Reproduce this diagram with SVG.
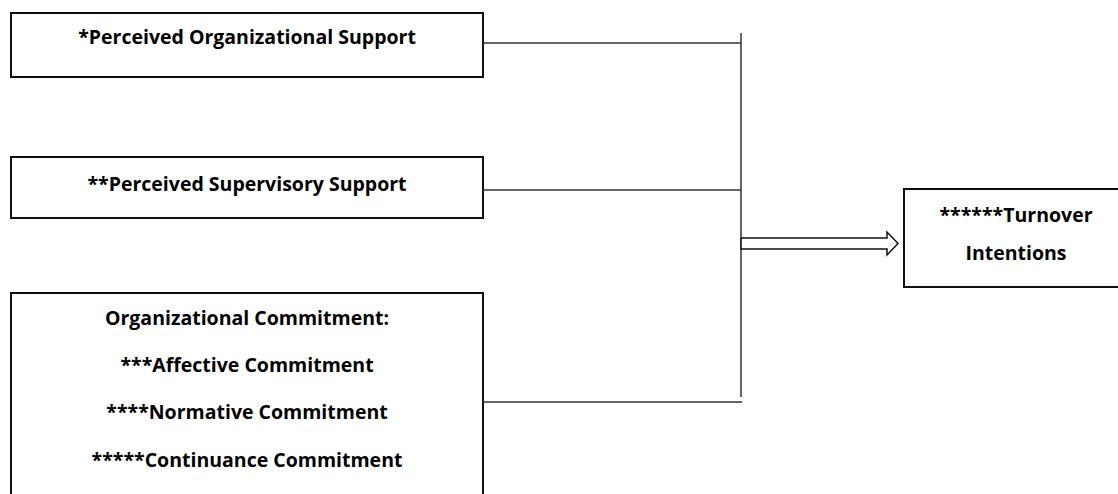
<svg xmlns="http://www.w3.org/2000/svg" width="1118" height="494" viewBox="0 0 1118 494">
<style>
.box{fill:#fff;stroke:#111;stroke-width:2}
.t{font-family:"Open Sans","Liberation Sans",sans-serif;font-weight:bold;font-size:19.5px;fill:#000;text-anchor:middle}
.c{stroke:#333;stroke-width:1.5;fill:none}
</style>
<rect width="1118" height="494" fill="#fff"/>
<g id="pos">
<rect class="box" x="11" y="13" width="472" height="64"/>
<text class="t" x="247" y="44">*Perceived Organizational Support</text>
</g>
<g id="pss">
<rect class="box" x="11" y="157" width="472" height="61"/>
<text class="t" x="247" y="191">**Perceived Supervisory Support</text>
</g>
<g id="oc">
<rect class="box" x="11" y="293" width="472" height="210"/>
<text class="t" x="247" y="325">Organizational Commitment:</text>
<text class="t" x="247" y="372">***Affective Commitment</text>
<text class="t" x="247" y="419">****Normative Commitment</text>
<text class="t" x="247" y="467">*****Continuance Commitment</text>
</g>
<g id="ti">
<rect class="box" x="904" y="189" width="224" height="98"/>
<text class="t" x="1016" y="222">******Turnover</text>
<text class="t" x="1016" y="260">Intentions</text>
</g>
<g id="connectors">
<line class="c" x1="741" y1="33" x2="741" y2="397"/>
<line class="c" x1="483" y1="43" x2="741" y2="43"/>
<line class="c" x1="483" y1="190" x2="741" y2="190"/>
<line class="c" x1="483" y1="402" x2="742" y2="402"/>
<path d="M741,238 H887 V232 L898,243.5 L887,255 V249 H741 Z" fill="#fff" stroke="#111" stroke-width="1.5"/>
</g>
</svg>
